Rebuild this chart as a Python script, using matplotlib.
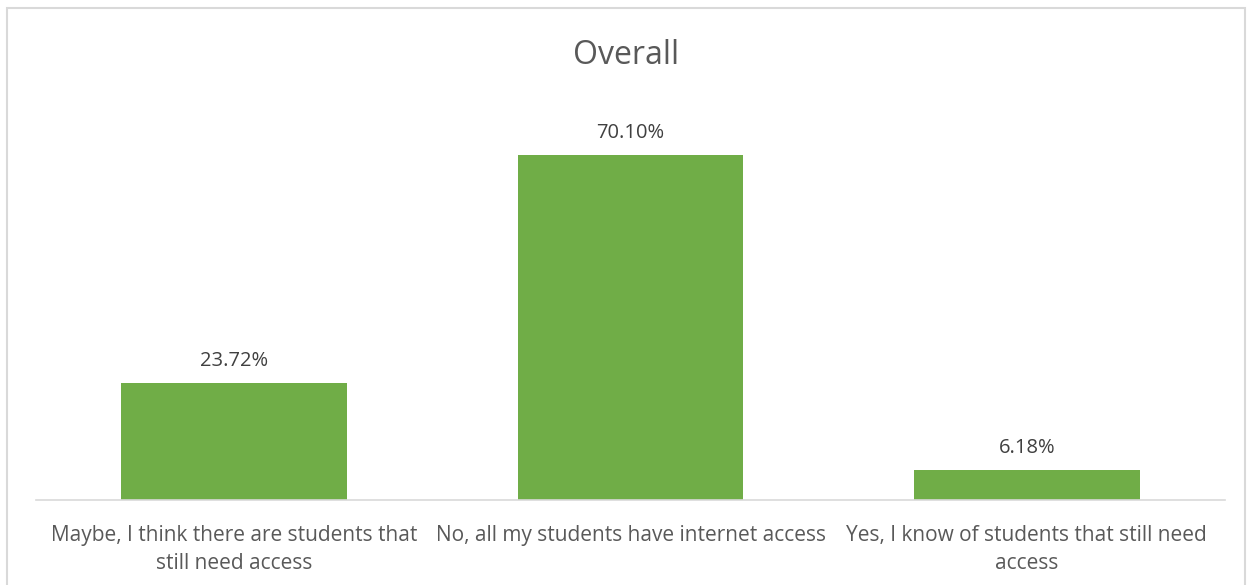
import matplotlib.pyplot as plt
from matplotlib.patches import Rectangle

categories = ["Maybe, I think there are students that\nstill need access",
              "No, all my students have internet access",
              "Yes, I know of students that still need\naccess"]
values = [23.72, 70.10, 6.18]

plt.rcParams['font.family'] = ['Open Sans', 'DejaVu Sans']
W, H = 1253, 585
fig = plt.figure(figsize=(W / 100, H / 100), dpi=100)

# outer chart border
fig.patches.append(Rectangle((7 / W, -0.01), 1238 / W, 1 - 8 / H + 0.01, transform=fig.transFigure,
                             fill=False, edgecolor='#d9d9d9', linewidth=1.5))

ax = fig.add_axes([36 / W, 85 / H, 1189 / W, 400 / H])
x = range(len(values))
ax.bar(x, values, width=0.57, color='#70ad47')
ax.set_xlim(-0.5, 2.5)
ax.set_ylim(0, 70.10 * 400 / 345)

for i, v in zip(x, values):
    ax.text(i, v + 2.4, f"{v:.2f}%", ha='center', va='bottom', fontsize=14.5, color='#404040')

ax.set_xticks(list(x))
ax.set_xticklabels(categories, fontsize=15, color='#595959', linespacing=1.45)
ax.tick_params(axis='x', length=0, pad=18)
ax.set_yticks([])
for s in ['top', 'right', 'left']:
    ax.spines[s].set_visible(False)
ax.spines['bottom'].set_color('#d9d9d9')
ax.spines['bottom'].set_linewidth(1.2)

fig.text(0.5, (585 - 55) / H, "Overall", ha='center', va='center', fontsize=23, color='#595959')

fig.savefig('out.png', dpi=100)
